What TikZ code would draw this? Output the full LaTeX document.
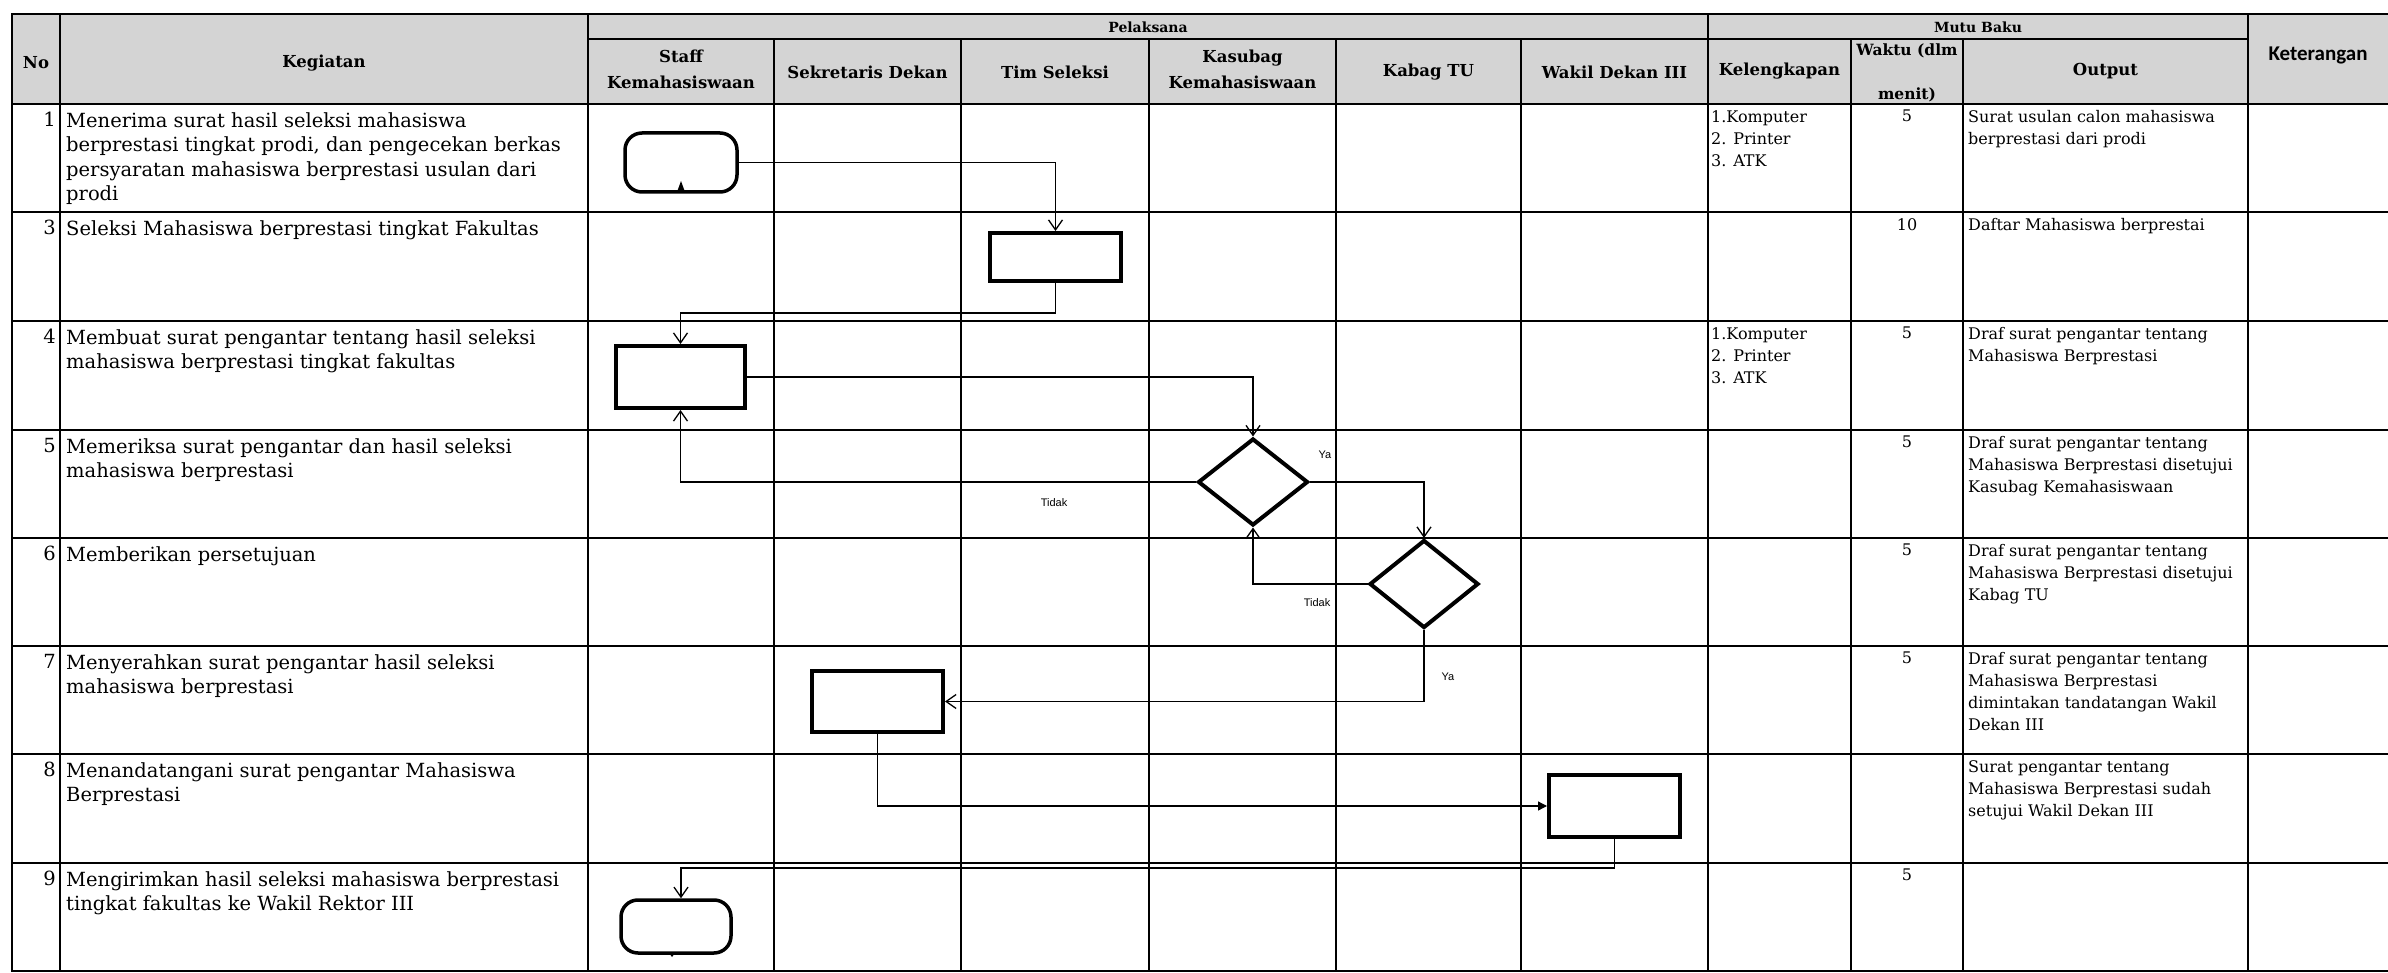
\documentclass[tikz,border=0pt]{standalone}
\usepackage{fontspec}
\setmainfont{DejaVu Serif}
\newfontfamily\calfont{Carlito}
\newfontfamily\lblfont{Liberation Sans}
\usetikzlibrary{arrows.meta,shapes.geometric}
\definecolor{hdr}{RGB}{212,212,212}
\begin{document}
\begin{tikzpicture}[x=1pt,y=-1pt,
  grid/.style={line width=2.6pt, line cap=rect},
  conn/.style={line width=1.3pt, -{Straight Barb[length=10pt,width=14pt]}},
  connf/.style={line width=1.3pt, -{Triangle[length=9pt,width=9pt]}},
  proc/.style={draw, line width=4pt, inner sep=0pt, minimum width=131pt},
  term/.style={draw, line width=3.5pt, rounded corners=17pt, inner sep=0pt},
  dec/.style={draw, diamond, line width=4pt, inner sep=0pt},
  body/.style={font=\fontsize{19.5}{24.5}\selectfont, inner sep=0pt, align=left},
  small/.style={font=\fontsize{16}{22}\selectfont, inner sep=0pt, align=left},
  hd/.style={font=\fontsize{16.5}{26}\selectfont\bfseries, inner sep=0pt, align=center},
  lbl/.style={font=\lblfont\fontsize{11}{13}\selectfont, inner sep=0pt}
]
\fill[white] (0,0) rectangle (2388,973);
\useasboundingbox (0,0) rectangle (2388,973);
% header background
\fill[hdr] (12,14) rectangle (2388,104);
% grid
\draw[grid] (12,14) -- (2388,14);
\draw[grid] (588,39) -- (2248,39);
\foreach \y in {104,212,321,430,538,646,754,863,971} \draw[grid] (12,\y) -- (2388,\y);
\foreach \x in {12,60,588,1708,2248} \draw[grid] (\x,14) -- (\x,971);
\foreach \x in {774,961,1149,1336,1521,1851,1963} \draw[grid] (\x,39) -- (\x,971);

% header texts
\node[hd] (hno) at (36,63) {No};
\node[hd] (hkeg) at (324,63) {Kegiatan};
\node[hd, font=\fontsize{14}{18}\selectfont\bfseries] (hpel) at (1148,27) {Pelaksana};
\node[hd] (hstaff) at (681,69) {Staff\\Kemahasiswaan};
\node[hd] (hsek) at (867.5,72) {Sekretaris Dekan};
\node[hd] (htim) at (1055,72) {Tim Seleksi};
\node[hd] (hkas) at (1242.5,69) {Kasubag\\Kemahasiswaan};
\node[hd] (hkab) at (1428.5,72) {Kabag TU};
\node[hd] (hwak) at (1614.5,72) {Wakil Dekan III};
\node[hd, font=\fontsize{14}{18}\selectfont\bfseries] (hmutu) at (1978,27) {Mutu Baku};
\node[hd] (hkel) at (1779.5,71) {Kelengkapan};
\node[hd, font=\fontsize{15.5}{20}\selectfont\bfseries] (hwak1) at (1907,51) {Waktu (dlm};
\node[hd, font=\fontsize{15.5}{20}\selectfont\bfseries] (hwak2) at (1907,95) {menit)};
\node[hd] (hout) at (2105.5,71) {Output};
\node[font=\calfont\bfseries\fontsize{21}{24}\selectfont, inner sep=0pt] (hket) at (2318,55) {Keterangan};

% numbers and activities
\node[body, anchor=north east] (n1) at (56,112) {1};
\node[body, anchor=north west] (k1) at (66,112) {Menerima surat hasil seleksi mahasiswa\\berprestasi tingkat prodi, dan pengecekan berkas\\persyaratan mahasiswa berprestasi usulan dari\\prodi};
\node[body, anchor=north east] (n3) at (56,220) {3};
\node[body, anchor=north west] (k3) at (66,220) {Seleksi Mahasiswa berprestasi tingkat Fakultas};
\node[body, anchor=north east] (n4) at (56,329) {4};
\node[body, anchor=north west] (k4) at (66,329) {Membuat surat pengantar tentang hasil seleksi\\mahasiswa berprestasi tingkat fakultas};
\node[body, anchor=north east] (n5) at (56,438) {5};
\node[body, anchor=north west] (k5) at (66,438) {Memeriksa surat pengantar dan hasil seleksi\\mahasiswa berprestasi};
\node[body, anchor=north east] (n6) at (56,546) {6};
\node[body, anchor=north west] (k6) at (66,546) {Memberikan persetujuan};
\node[body, anchor=north east] (n7) at (56,654) {7};
\node[body, anchor=north west] (k7) at (66,654) {Menyerahkan surat pengantar hasil seleksi\\mahasiswa berprestasi};
\node[body, anchor=north east] (n8) at (56,762) {8};
\node[body, anchor=north west] (k8) at (66,762) {Menandatangani surat pengantar Mahasiswa\\Berprestasi};
\node[body, anchor=north east] (n9) at (56,871) {9};
\node[body, anchor=north west] (k9) at (66,871) {Mengirimkan hasil seleksi mahasiswa berprestasi\\tingkat fakultas ke Wakil Rektor III};

% kelengkapan
\node[small, anchor=north west] (l1) at (1711,110) {1.Komputer\\2. Printer\\3. ATK};
\node[small, anchor=north west] (l4) at (1711,327) {1.Komputer\\2. Printer\\3. ATK};
% waktu
\node[small, anchor=north] (w1) at (1907,110) {5};
\node[small, anchor=north] (w3) at (1907,218) {10};
\node[small, anchor=north] (w4) at (1907,327) {5};
\node[small, anchor=north] (w5) at (1907,436) {5};
\node[small, anchor=north] (w6) at (1907,544) {5};
\node[small, anchor=north] (w7) at (1907,652) {5};
\node[small, anchor=north] (w9) at (1907,869) {5};
% output
\node[small, anchor=north west] (o1) at (1968,110) {Surat usulan calon mahasiswa\\berprestasi dari prodi};
\node[small, anchor=north west] (o3) at (1968,218) {Daftar Mahasiswa berprestai};
\node[small, anchor=north west] (o4) at (1968,327) {Draf surat pengantar tentang\\Mahasiswa Berprestasi};
\node[small, anchor=north west] (o5) at (1968,436) {Draf surat pengantar tentang\\Mahasiswa Berprestasi disetujui\\Kasubag Kemahasiswaan};
\node[small, anchor=north west] (o6) at (1968,544) {Draf surat pengantar tentang\\Mahasiswa Berprestasi disetujui\\Kabag TU};
\node[small, anchor=north west] (o7) at (1968,652) {Draf surat pengantar tentang\\Mahasiswa Berprestasi\\dimintakan tandatangan Wakil\\Dekan III};
\node[small, anchor=north west] (o8) at (1968,760) {Surat pengantar tentang\\Mahasiswa Berprestasi sudah\\setujui Wakil Dekan III};

% flow shapes
\node[term, minimum width=112pt, minimum height=59pt] (t1) at (681,162.5) {};
\fill (677,192) -- (681,181) -- (685,192) -- cycle;
\node[proc, minimum height=48pt] (b3) at (1055.5,257) {};
\node[proc, minimum width=129pt, minimum height=62pt] (b4) at (680.5,377) {};
\node[dec, minimum width=110pt, minimum height=87pt] (d1) at (1253,482) {};
\node[dec, minimum width=109pt, minimum height=88pt] (d2) at (1424,584) {};
\node[proc, minimum height=61pt] (b7) at (877.5,701.5) {};
\node[proc, minimum height=62pt] (b8) at (1614.5,806) {};
\node[term, minimum width=110pt, minimum height=53pt] (t2) at (676,926.5) {};
\fill (669,953) -- (675,953) -- (672,957) -- cycle;

% connectors
\draw[conn] (t1.east) -| (b3.north);
\draw[conn] (b3.south) -- ++(0,30) -| (b4.north);
\draw[conn] (b4.east) -| (d1.north);
\draw[conn] (d1.west) -| (b4.south);
\draw[conn] (d1.east) -| (d2.north);
\draw[conn] (d2.west) -| (d1.south);
\draw[conn] (d2.south) |- (b7.east);
\draw[connf] (b7.south) |- (b8.west);
\draw[conn] (b8.south) -- ++(0,29) -| ([xshift=5pt]t2.north);

% labels
\node[lbl] (ya1) at (1325,455) {Ya};
\node[lbl] (td1) at (1054,503) {Tidak};
\node[lbl] (td2) at (1317,603) {Tidak};
\node[lbl] (ya2) at (1448,677) {Ya};
\end{tikzpicture}
\end{document}
